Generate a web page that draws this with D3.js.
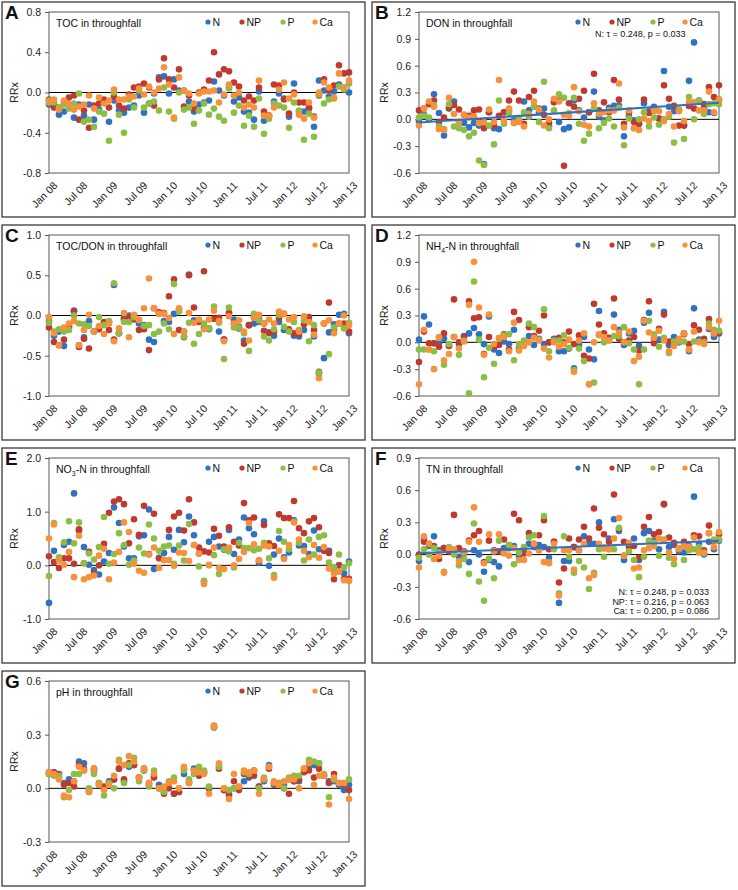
<!DOCTYPE html>
<html><head><meta charset="utf-8">
<script src="https://cdn.jsdelivr.net/npm/d3@7"></script>
<style>body{margin:0;background:#fff;} svg{display:block;font-family:Arial,"Liberation Sans",sans-serif;}</style>
</head><body>
<svg id="c" width="738" height="890"></svg>
<script>
// ---------- data ----------
const xTickLabels = ["Jan 08","Jul 08","Jan 09","Jul 09","Jan 10","Jul 10","Jan 11","Jul 11","Jan 12","Jul 12","Jan 13"];
const seriesNames = ["N","NP","P","Ca"];
const seriesColors = ["#2F72C2","#C0392F","#8CBE46","#F7913B"];

// A: TOC
const tocN = [-0.12,-0.12,-0.22,-0.19,-0.12,-0.25,-0.12,-0.23,-0.12,-0.27,-0.17,-0.1,-0.29,-0.08,-0.18,-0.2,-0.15,-0.13,-0.03,-0.2,-0.11,-0.01,0.15,0.16,-0.01,0.13,0.02,0.02,-0.09,-0.19,-0.12,-0.1,-0.08,0.11,0.02,-0.03,0.06,-0.09,-0.05,-0.19,-0.2,-0.27,0.01,-0.28,-0.23,-0.09,-0.01,-0.06,-0.24,0.09,-0.19,-0.19,-0.16,-0.34,0.12,0.02,-0.04,0.01,0.08,0.05,0.0];
const tocNP = [-0.07,-0.15,-0.15,-0.1,-0.05,-0.03,-0.27,-0.18,-0.35,-0.13,-0.11,-0.07,-0.15,-0.04,-0.13,-0.16,-0.02,0.05,0.06,0.09,0.05,-0.13,0.13,0.34,0.13,0.05,0.23,-0.14,-0.03,-0.16,0.0,0.03,0.12,0.4,0.18,0.23,0.21,0.1,0.06,-0.08,-0.04,-0.08,0.05,-0.19,-0.23,0.08,0.07,-0.07,-0.21,0.0,-0.1,-0.1,-0.15,-0.24,-0.03,0.13,0.02,0.07,0.27,0.19,0.2];
const tocP = [-0.08,-0.1,-0.15,-0.12,-0.16,-0.11,-0.01,-0.29,-0.27,-0.34,-0.19,-0.21,-0.48,0.0,-0.22,-0.4,-0.07,-0.15,0.02,-0.15,-0.11,-0.09,-0.18,0.05,-0.19,-0.26,0.0,-0.17,-0.15,-0.31,-0.18,-0.11,-0.22,-0.16,-0.24,-0.28,0.04,-0.2,-0.13,-0.33,-0.23,-0.34,-0.06,-0.41,-0.26,-0.11,-0.13,-0.15,-0.35,-0.1,-0.18,-0.47,-0.21,-0.44,-0.02,-0.11,-0.07,-0.06,0.06,0.03,0.09];
const tocCa = [-0.1,-0.07,-0.17,-0.08,-0.12,-0.17,-0.14,-0.12,-0.03,-0.16,-0.05,-0.11,-0.08,0.03,-0.07,-0.07,-0.04,-0.04,0.04,-0.02,0.06,0.0,0.04,0.25,0.08,-0.25,0.15,0.02,-0.01,-0.11,-0.01,0.01,0.01,0.02,-0.1,-0.02,0.08,-0.03,0.0,-0.15,-0.12,-0.15,0.12,-0.23,-0.23,-0.15,0.03,0.1,-0.06,-0.02,-0.22,-0.26,-0.1,-0.25,0.0,0.1,0.05,-0.05,0.19,0.05,0.12];

// B: DON
const donN = [-0.03,0.05,0.0,0.28,0.07,-0.18,0.12,0.2,-0.03,-0.04,-0.09,-0.04,-0.07,-0.5,0.08,-0.1,-0.11,0.08,0.1,-0.01,-0.02,0.2,0.1,0.14,0.08,0.12,-0.08,0.2,-0.03,-0.11,-0.09,0.21,0.1,0.02,0.08,0.31,0.03,-0.01,0.13,0.15,0.15,-0.19,0.03,-0.01,-0.05,0.18,0.09,0.14,0.01,0.54,0.14,0.09,0.1,-0.07,0.43,0.86,0.21,0.12,0.08,0.07,0.22];
const donNP = [0.1,0.12,0.17,0.21,-0.03,0.02,0.13,0.16,0.11,0.05,0.04,0.1,0.11,-0.1,0.08,-0.07,0.04,0.08,0.21,0.31,0.21,-0.05,0.25,0.32,0.12,0.05,-0.04,0.19,0.21,-0.52,0.18,0.14,0.23,0.32,0.08,0.51,0.1,0.19,0.08,0.44,0.22,-0.05,0.08,-0.03,-0.05,0.22,0.07,0.1,0.01,0.38,0.23,0.15,-0.07,-0.07,0.15,0.12,0.2,0.17,0.36,0.25,0.38];
const donP = [0.02,0.04,0.02,0.16,-0.08,-0.11,0.17,-0.08,-0.1,-0.12,-0.19,-0.15,-0.46,-0.51,-0.07,-0.28,0.21,-0.05,0.07,-0.04,0.0,0.08,0.03,0.14,-0.03,0.42,-0.1,0.1,0.28,0.24,0.07,0.24,-0.05,-0.24,-0.16,0.12,-0.1,-0.04,0.01,-0.08,0.13,-0.29,0.01,-0.1,0.0,0.08,-0.08,0.02,-0.06,0.0,0.03,-0.26,0.11,-0.22,0.25,0.0,0.21,0.06,0.17,0.18,0.17];
const donCa = [-0.07,0.12,0.2,0.14,-0.11,-0.12,0.24,0.06,-0.03,0.05,0.02,0.03,-0.04,-0.03,0.11,-0.03,0.44,-0.02,0.12,-0.04,-0.03,-0.08,0.06,0.2,0.11,-0.07,0.0,0.23,0.2,0.05,0.04,0.36,0.09,-0.06,-0.08,0.18,0.06,0.08,0.1,0.1,0.4,-0.09,0.1,-0.1,-0.12,0.01,-0.02,0.1,0.09,-0.02,0.06,-0.08,0.09,-0.02,0.19,0.19,0.1,0.1,0.31,0.08,0.22];
const donTrend = [-0.035, 0.185];

// C: TOC/DON
const cdN = [-0.07,-0.25,-0.2,-0.38,-0.15,0.06,-0.37,-0.27,-0.07,-0.2,-0.15,-0.1,-0.08,0.38,-0.22,-0.03,0.0,-0.03,-0.1,-0.12,-0.3,-0.33,0.03,-0.07,-0.08,0.02,0.07,-0.2,0.51,-0.06,-0.07,-0.15,-0.17,-0.04,-0.2,-0.3,0.03,-0.05,-0.16,-0.31,-0.12,-0.1,-0.08,-0.1,-0.21,-0.25,-0.08,-0.18,-0.18,-0.25,-0.26,-0.18,-0.07,-0.26,-0.72,-0.53,-0.21,-0.11,0.01,0.02,-0.22];
const cdNP = [-0.15,-0.33,-0.37,-0.3,-0.13,0.05,-0.39,-0.29,-0.41,-0.2,-0.17,-0.08,-0.18,-0.3,-0.22,-0.05,-0.03,-0.05,-0.18,-0.17,-0.43,0.09,0.04,0.03,0.24,0.45,-0.18,-0.27,0.5,0.1,-0.08,0.55,-0.16,-0.04,-0.03,-0.3,0.03,-0.1,-0.14,-0.35,-0.12,-0.02,-0.04,-0.19,-0.22,-0.2,-0.03,0.02,-0.17,-0.22,-0.23,-0.11,-0.02,-0.18,-0.7,-0.1,0.16,-0.17,-0.1,-0.1,-0.2];
const cdP = [-0.09,-0.2,-0.17,-0.2,-0.18,0.0,-0.1,-0.11,-0.13,-0.2,-0.02,-0.12,-0.07,0.4,-0.22,-0.08,-0.08,-0.02,-0.06,-0.13,-0.12,-0.23,-0.2,-0.1,-0.17,0.39,0.05,-0.26,-0.09,-0.35,-0.23,-0.1,-0.16,0.11,-0.09,-0.54,0.1,-0.15,-0.15,-0.22,-0.44,0.02,-0.06,-0.26,-0.31,-0.17,0.01,-0.14,-0.2,-0.08,-0.18,-0.06,-0.32,-0.12,-0.71,-0.1,-0.48,-0.15,-0.1,-0.16,-0.09];
const cdCa = [-0.02,-0.22,-0.37,-0.15,-0.1,-0.07,-0.37,-0.18,0.01,-0.2,-0.13,-0.23,-0.1,-0.32,-0.16,0.03,-0.27,0.01,-0.05,0.09,0.46,0.09,0.02,0.02,-0.03,-0.23,0.09,-0.2,0.03,-0.09,-0.05,-0.17,-0.05,0.06,-0.07,-0.32,-0.01,-0.1,-0.06,-0.2,-0.31,-0.03,0.01,-0.1,-0.05,-0.1,0.05,0.02,-0.05,-0.02,-0.2,-0.01,-0.08,-0.24,-0.78,-0.1,-0.06,-0.22,-0.1,0.0,-0.12];

// D: NH4-N
const nhN = [0.03,0.29,0.2,-0.01,-0.01,0.04,-0.03,0.06,-0.02,0.07,0.1,0.16,0.09,-0.02,0.29,-0.08,-0.12,0.01,-0.02,0.14,-0.07,-0.03,0.07,-0.03,0.04,-0.02,0.0,0.04,-0.1,-0.1,-0.07,-0.29,-0.03,0.06,-0.08,-0.19,0.35,0.06,0.03,0.31,0.14,-0.03,0.1,0.13,-0.04,0.22,0.33,0.04,0.03,0.34,-0.03,0.06,0.0,0.1,-0.1,0.38,0.03,0.02,0.15,0.06,0.1];
const nhNP = [-0.22,0.12,-0.01,-0.01,-0.05,0.1,-0.04,0.48,0.0,0.06,0.46,0.27,0.28,-0.13,0.06,-0.05,-0.03,0.09,-0.08,0.34,0.25,-0.02,0.17,0.07,0.13,0.3,0.0,0.02,0.05,0.0,0.12,-0.02,0.08,-0.15,-0.18,0.43,0.2,0.1,0.05,0.49,0.04,0.0,0.02,0.06,-0.09,0.25,0.46,-0.01,0.15,0.31,0.01,0.0,0.02,0.09,-0.02,0.19,0.14,0.04,0.26,0.1,0.11];
const nhP = [-0.08,-0.08,-0.08,-0.1,0.06,-0.25,-0.02,0.06,-0.14,0.02,-0.57,0.68,0.03,-0.39,-0.06,-0.24,0.04,0.08,0.09,-0.2,-0.02,0.02,0.21,0.17,0.03,0.37,-0.1,0.02,0.02,0.08,-0.06,-0.31,-0.07,-0.21,-0.47,-0.45,0.08,0.0,0.02,0.07,0.07,0.17,-0.01,-0.08,-0.47,-0.08,0.24,0.09,-0.05,0.05,-0.12,0.01,0.01,0.01,-0.08,0.01,0.01,0.0,0.21,0.14,0.13];
const nhCa = [-0.47,0.14,-0.08,-0.3,0.05,-0.2,-0.13,0.06,-0.07,0.01,0.42,0.9,0.39,-0.14,0.31,-0.02,0.05,0.06,-0.1,0.22,-0.09,-0.04,0.0,0.05,0.02,-0.07,-0.17,0.0,-0.05,-0.02,0.03,-0.33,0.02,0.1,-0.47,0.0,0.09,0.06,0.02,0.17,0.11,0.0,0.12,-0.21,-0.16,0.24,0.11,0.05,0.13,0.02,-0.1,-0.04,0.04,0.1,-0.08,0.12,0.0,-0.02,0.17,0.1,0.24];

// E: NO3-N
const noN = [-0.7,0.27,0.1,0.38,0.44,1.34,0.65,0.34,0.01,-0.09,-0.17,0.07,0.23,1.08,0.79,0.35,0.13,0.13,0.54,0.56,1.04,-0.07,0.14,0.23,0.53,0.29,0.66,0.43,0.91,0.56,0.22,-0.3,0.44,0.53,0.35,0.29,0.66,0.21,0.48,0.89,0.69,0.58,0.05,0.82,-0.01,0.2,0.5,0.15,0.24,0.84,0.37,0.36,0.21,0.65,0.3,0.28,0.27,-0.1,0.0,-0.15,0.07];
const noNP = [0.17,0.06,-0.05,0.13,0.13,0.03,0.67,0.04,0.25,-0.16,0.0,0.4,0.98,1.19,1.23,1.14,0.41,0.86,0.57,1.11,0.21,0.96,0.13,0.1,0.66,0.91,0.98,0.65,1.23,0.8,0.33,0.26,0.24,0.68,0.55,0.35,0.71,0.44,0.37,1.16,0.84,0.89,0.09,0.75,0.41,0.36,0.95,0.88,0.88,1.2,0.69,0.6,0.82,0.88,0.71,0.27,0.23,-0.26,0.0,-0.25,-0.25];
const noP = [-0.2,0.79,0.15,0.43,0.82,0.41,0.8,0.04,0.22,0.11,0.34,0.9,0.03,0.21,0.6,0.38,0.01,0.09,0.33,0.22,0.76,0.5,0.27,0.35,0.37,0.03,0.37,0.09,0.77,0.38,-0.02,-0.29,0.0,0.19,-0.16,0.3,0.26,-0.04,0.42,0.32,0.32,0.28,0.31,0.42,0.13,-0.18,0.64,0.44,0.3,0.81,0.42,0.09,0.48,0.2,0.53,0.56,0.05,-0.03,0.2,-0.04,0.04];
const noCa = [0.5,0.76,0.09,0.01,0.25,-0.22,0.55,-0.26,-0.22,-0.19,0.18,0.31,-0.26,0.05,0.25,0.8,0.62,0.03,-0.1,-0.14,0.2,0.33,-0.05,0.1,0.1,-0.01,0.24,0.23,0.08,0.38,0.22,-0.35,0.01,0.33,-0.05,-0.07,0.33,0.0,0.12,0.25,0.79,0.39,0.09,0.37,0.35,-0.23,0.27,0.12,0.38,0.8,0.48,0.27,0.15,0.38,0.14,0.34,-0.06,-0.15,-0.12,-0.28,-0.29];

// F: TN
const tnN = [-0.06,0.15,0.08,0.17,0.04,0.06,0.04,0.04,-0.02,0.01,-0.07,0.04,0.0,-0.16,-0.05,-0.07,-0.11,0.06,0.06,0.08,-0.01,0.05,0.1,0.07,0.09,0.07,-0.03,0.12,-0.45,-0.06,-0.06,0.07,0.04,0.17,0.11,0.1,0.3,0.06,0.15,0.33,0.22,-0.05,0.09,0.15,-0.05,0.2,0.22,0.13,0.05,0.47,0.07,0.09,0.03,0.02,0.08,0.54,0.1,0.0,0.12,0.05,0.13];
const tnNP = [0.0,0.12,0.1,0.08,-0.04,0.06,0.03,0.37,0.06,0.03,0.13,0.18,0.22,-0.07,0.13,0.04,0.03,0.14,0.09,0.38,0.32,0.01,0.2,0.1,0.18,0.32,0.05,0.12,-0.26,-0.13,0.15,0.07,0.14,0.26,0.15,0.43,0.25,0.19,0.12,0.56,0.24,0.12,0.07,0.08,-0.03,0.26,0.35,0.19,0.21,0.47,0.16,0.11,0.05,0.12,0.06,0.18,0.17,0.04,0.27,0.13,0.19];
const tnP = [-0.03,0.05,0.0,0.06,0.02,-0.16,0.07,0.0,-0.1,-0.04,-0.18,0.29,-0.25,-0.43,-0.04,-0.22,0.13,0.01,0.09,-0.09,0.02,0.07,0.16,0.18,0.04,0.36,-0.07,0.05,-0.36,0.17,-0.02,-0.17,-0.06,-0.12,-0.32,-0.17,0.05,-0.02,0.05,0.05,0.25,-0.01,0.03,-0.05,-0.21,-0.02,0.13,0.11,-0.01,0.14,-0.03,-0.09,0.05,-0.05,0.04,0.05,0.07,0.01,0.2,0.14,0.14];
const tnCa = [-0.12,0.17,0.1,-0.04,-0.01,-0.17,0.05,0.05,-0.06,0.02,0.12,0.44,0.12,-0.08,0.19,0.03,0.19,0.02,-0.01,0.06,-0.05,-0.05,0.01,0.1,0.04,-0.07,-0.08,0.1,-0.38,0.04,0.04,-0.14,0.04,0.1,-0.22,-0.19,0.1,0.06,0.05,0.15,0.34,-0.01,0.11,-0.13,-0.12,0.04,0.06,0.08,0.15,0.13,0.02,-0.04,0.06,0.08,0.07,0.16,0.02,0.02,0.2,0.07,0.21];
const tnTrend = [0.012, 0.128];

// G: pH
const phN = [0.09,0.09,0.06,0.03,0.05,0.04,0.15,0.14,-0.02,0.1,0.02,0.0,0.04,0.05,0.11,0.04,0.12,0.13,0.06,0.1,0.02,0.07,0.02,-0.02,0.03,-0.03,-0.02,0.08,0.04,0.11,0.1,0.09,0.0,0.35,0.13,-0.01,-0.03,0.0,0.0,0.04,0.06,0.1,0.01,0.04,0.13,0.03,0.03,0.02,0.05,0.04,0.04,0.1,0.12,0.13,0.14,0.07,0.04,0.04,0.02,-0.01,0.02];
const phNP = [0.08,0.09,0.08,0.02,0.03,0.01,0.13,0.11,-0.01,0.11,0.03,0.01,0.03,0.05,0.11,0.05,0.14,0.13,0.06,0.11,0.03,0.06,0.0,-0.03,0.0,-0.03,-0.02,0.11,0.03,0.1,0.07,0.09,0.0,0.34,0.11,-0.01,-0.04,0.04,-0.01,0.08,0.07,0.07,0.01,0.05,0.11,0.02,0.02,0.0,-0.03,0.04,0.05,0.09,0.1,0.06,0.11,0.07,0.03,0.08,0.03,0.02,-0.01];
const phP = [0.08,0.07,0.07,-0.05,-0.01,0.08,0.08,0.1,0.0,0.08,0.03,-0.04,0.03,0.0,0.16,0.03,0.13,0.17,0.04,0.1,0.01,0.1,0.0,-0.02,0.04,0.06,0.0,0.1,0.05,0.08,0.12,0.1,0.01,0.34,0.12,0.0,-0.01,0.0,0.01,0.09,0.08,0.1,0.0,0.06,0.12,0.03,0.03,0.0,0.06,0.07,0.07,0.11,0.16,0.15,0.14,0.08,-0.05,0.05,0.03,0.03,0.05];
const phCa = [0.09,0.08,0.05,-0.04,-0.05,0.04,0.12,0.1,-0.02,0.11,0.02,-0.01,0.02,0.07,0.15,0.13,0.18,0.15,0.06,0.11,0.03,0.08,0.0,0.01,0.03,0.04,0.0,0.12,0.03,0.1,0.09,0.08,-0.03,0.35,0.14,0.0,-0.06,0.08,0.01,0.1,0.09,0.1,-0.03,0.05,0.12,0.04,0.02,0.04,0.05,0.05,0.0,0.11,0.14,0.02,0.07,0.07,-0.09,0.06,0.03,0.03,-0.06];

const panels = [
  {letter:"A", title:[["TOC in throughfall"]], domain:[-0.8,0.8], step:0.4, series:[tocN,tocNP,tocP,tocCa]},
  {letter:"B", title:[["DON in throughfall"]], domain:[-0.6,1.2], step:0.3, series:[donN,donNP,donP,donCa], trend:donTrend, statsTop:["N: τ = 0.248, p = 0.033"]},
  {letter:"C", title:[["TOC/DON in throughfall"]], domain:[-1,1], step:0.5, series:[cdN,cdNP,cdP,cdCa]},
  {letter:"D", title:[["NH"],["4","sub"],["-N in throughfall"]], domain:[-0.6,1.2], step:0.3, series:[nhN,nhNP,nhP,nhCa]},
  {letter:"E", title:[["NO"],["3","sub"],["-N in throughfall"]], domain:[-1,2], step:1, series:[noN,noNP,noP,noCa]},
  {letter:"F", title:[["TN in throughfall"]], domain:[-0.6,0.9], step:0.3, series:[tnN,tnNP,tnP,tnCa], trend:tnTrend, statsBottom:["N: τ = 0.248, p = 0.033","NP: τ = 0.216, p = 0.063","Ca: τ = 0.200, p = 0.086"]},
  {letter:"G", title:[["pH in throughfall"]], domain:[-0.3,0.6], step:0.3, series:[phN,phNP,phP,phCa]}
];

// ---------- layout ----------
const svg = d3.select("#c");
const colX = [2, 372], rowY = [2, 225, 448, 671];
const panelW = 363, panelH = 215;
const plotL = 47, plotT = 10, plotW = 300, plotH = 161;
const fmt = v => d3.format(".1f")(v).replace("−","-");

panels.forEach((p, i) => {
  const px = colX[i % 2], py = rowY[Math.floor(i / 2)];
  const g = svg.append("g").attr("transform", `translate(${px},${py})`);
  g.append("rect").attr("x",0).attr("y",0).attr("width",panelW).attr("height",panelH)
    .attr("fill","none").attr("stroke","#3a3a3a").attr("stroke-width",1.3);
  g.append("text").attr("x",3).attr("y",17).attr("font-size",19).attr("font-weight","bold").attr("fill","#111").text(p.letter);

  const pg = g.append("g").attr("transform", `translate(${plotL},${plotT})`);
  const x = d3.scaleLinear().domain([0,60]).range([0,plotW]);
  const y = d3.scaleLinear().domain(p.domain).range([plotH,0]);
  const tv = d3.range(p.domain[0], p.domain[1] + p.step/2, p.step).map(v => Math.round(v*10)/10);

  // y axis
  const ya = pg.append("g").call(d3.axisLeft(y).tickValues(tv).tickFormat(fmt).tickSize(4).tickPadding(4));
  ya.select(".domain").remove();
  ya.selectAll("line").attr("stroke","#595959");
  ya.selectAll("text").attr("font-size",10.5).attr("fill","#222").style("font-family","Arial, 'Liberation Sans', sans-serif");

  // frame
  pg.append("rect").attr("width",plotW).attr("height",plotH).attr("fill","none").attr("stroke","#595959").attr("stroke-width",1);
  // zero line
  pg.append("line").attr("x1",0).attr("x2",plotW).attr("y1",y(0)).attr("y2",y(0)).attr("stroke","#000").attr("stroke-width",1);

  // x tick labels
  xTickLabels.forEach((lab, k) => {
    const xx = x(k*6);
    pg.append("text").attr("transform",`translate(${xx+4},${plotH+8}) rotate(-45)`)
      .attr("text-anchor","end").attr("dy","0.7em").attr("font-size",10.5).attr("fill","#222").text(lab);
  });

  // RRx label
  g.append("text").attr("transform",`translate(16,${plotT+plotH/2}) rotate(-90)`)
    .attr("text-anchor","middle").attr("font-size",10.5).attr("fill","#222").text("RRx");

  // title
  const t = pg.append("text").attr("x",7).attr("y",15).attr("font-size",10.5).attr("fill","#111");
  p.title.forEach(([s, kind]) => {
    const ts = t.append("tspan").text(s);
    if (kind === "sub") ts.attr("font-size",7).attr("dy",3);
    else if (t.selectAll("tspan").size() > 1) ts.attr("dy",-3);
  });

  // legend
  const legX = [159, 193, 234, 266];
  seriesNames.forEach((nm, k) => {
    pg.append("circle").attr("cx",legX[k]).attr("cy",10).attr("r",2.6).attr("fill",seriesColors[k]);
    pg.append("text").attr("x",legX[k]+4.5).attr("y",13.5).attr("font-size",10.5).attr("fill","#111").text(nm);
  });

  // points
  p.series.forEach((arr, k) => {
    pg.append("g").selectAll("circle").data(arr).join("circle")
      .attr("cx",(d,j) => x(j)).attr("cy",d => y(d)).attr("r",3.3).attr("fill",seriesColors[k]);
  });

  // trend line
  if (p.trend) {
    pg.append("line").attr("x1",x(0)).attr("x2",x(60)).attr("y1",y(p.trend[0])).attr("y2",y(p.trend[1]))
      .attr("stroke","#2F72C2").attr("stroke-width",2);
  }
  if (p.statsTop) {
    pg.append("text").attr("x",176).attr("y",25).attr("font-size",9).attr("fill","#111").text(p.statsTop[0]);
  }
  if (p.statsBottom) {
    p.statsBottom.forEach((s, k) => {
      pg.append("text").attr("x",290).attr("y",137 + k*9.6).attr("text-anchor","end").attr("font-size",9).attr("fill","#111").text(s);
    });
  }
});
</script>
</body></html>
